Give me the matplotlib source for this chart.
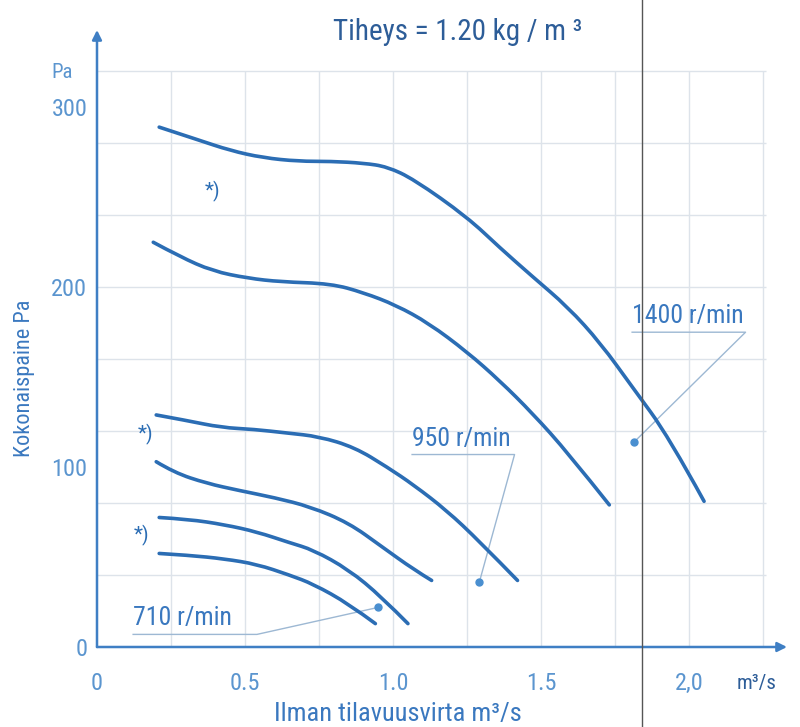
import matplotlib
matplotlib.use('Agg')
import matplotlib.pyplot as plt
from matplotlib.lines import Line2D
from matplotlib.path import Path
from matplotlib.patches import PathPatch
from matplotlib import font_manager

# pick the narrowest installed sans family
_names = {f.name for f in font_manager.fontManager.ttflist}
FONT = 'Roboto'
for cand in ['Roboto Condensed', 'Liberation Sans Narrow', 'Open Sans Condensed']:
    if cand in _names:
        FONT = cand
        break
plt.rcParams['font.family'] = [FONT, 'DejaVu Sans']

# ── Data ──────────────────────────────────────────────────────────────────────
# 1400 r/min, upper curve (*)
q_1400a = [0.21, 0.34, 0.45, 0.56, 0.68, 0.79, 0.90, 0.98, 1.07, 1.25, 1.36, 1.47, 1.59, 1.70, 1.81, 1.93, 2.05]
p_1400a = [289, 282, 276, 272, 270, 270, 269, 267, 260, 239, 222, 206, 189, 169, 144, 117, 81]
# 1400 r/min, lower curve
q_1400b = [0.19, 0.28, 0.39, 0.51, 0.62, 0.79, 0.90, 1.01, 1.12, 1.25, 1.36, 1.47, 1.59, 1.73]
p_1400b = [225, 217, 209, 205, 203, 202, 197, 190, 180, 164, 148, 130, 108, 79]
# 950 r/min, upper curve (*)
q_950a = [0.20, 0.30, 0.42, 0.53, 0.64, 0.75, 0.87, 0.98, 1.07, 1.18, 1.29, 1.42]
p_950a = [129, 126, 122, 121, 119, 117, 111, 100, 90, 76, 59, 37]
# 950 r/min, lower curve
q_950b = [0.20, 0.26, 0.37, 0.48, 0.60, 0.72, 0.85, 0.96, 1.07, 1.13]
p_950b = [103, 97, 91, 87, 83, 78, 69, 56, 43, 37]
# 710 r/min, upper curve (*)
q_710a = [0.21, 0.31, 0.43, 0.54, 0.65, 0.73, 0.85, 0.96, 1.05]
p_710a = [72, 71, 68, 64, 58, 54, 43, 28, 13]
# 710 r/min, lower curve
q_710b = [0.21, 0.31, 0.43, 0.54, 0.65, 0.73, 0.85, 0.94]
p_710b = [52, 51, 49, 46, 40, 35, 24, 13]

CURVES = [(q_1400a, p_1400a), (q_1400b, p_1400b), (q_950a, p_950a),
          (q_950b, p_950b), (q_710a, p_710a), (q_710b, p_710b)]

X_TICKS = [0, 0.5, 1.0, 1.5, 2.0]
X_TICK_LABELS = ['0', '0.5', '1.0', '1.5', '2,0']
Y_TICKS = [0, 100, 200, 300]
Y_TICK_LABELS = ['0', '100', '200', '300']
X_GRID = [0.25, 0.5, 0.75, 1.0, 1.25, 1.5, 1.75, 2.0, 2.25]
Y_GRID = [40, 80, 120, 160, 200, 240, 280, 320]

# speed labels: text, (text x, baseline y), underline end x, dot (x, y)
SPEED_LABELS = [
    ('1400 r/min', (1.807, 180), 2.19, (1.814, 114)),
    ('950 r/min',  (1.064, 112), 1.41, (1.291, 36)),
    ('710 r/min',  (0.122, 12),  0.54, (0.949, 22)),
]
STAR_POS = [(0.39, 253), (0.165, 118), (0.15, 62)]

# ── Styles ────────────────────────────────────────────────────────────────────
CURVE_COLOR  = '#2b6db4'
AXIS_COLOR   = '#3f7fc4'
TICK_COLOR   = '#5b95cf'
TITLE_COLOR  = '#2d5d98'
LABEL_COLOR  = '#3a78bf'
GRID_COLOR   = '#dde3ea'
LEADER_COLOR = '#9db8d3'


def smooth_path(xs, ys):
    # quadratic b-spline through the midpoints, anchored at both ends
    pts = list(zip(xs, ys))
    verts, codes = [pts[0]], [Path.MOVETO]
    for i in range(1, len(pts) - 1):
        mid = ((pts[i][0] + pts[i + 1][0]) / 2, (pts[i][1] + pts[i + 1][1]) / 2)
        if i == len(pts) - 2:
            mid = pts[-1]
        verts += [pts[i], mid]
        codes += [Path.CURVE3, Path.CURVE3]
    return Path(verts, codes)


fig = plt.figure(figsize=(8, 7.27), dpi=100, facecolor='white')
ax = fig.add_axes([97/800, 80/727, 690/800, 617/727])
ax.set_xlim(0, 2.33)
ax.set_ylim(0, 343)
for s in ax.spines.values():
    s.set_visible(False)

# grid
ax.hlines(Y_GRID, 0, 2.26, color=GRID_COLOR, lw=1.0, zorder=1)
ax.vlines(X_GRID, 0, 320, color=GRID_COLOR, lw=1.0, zorder=1)

# axes with arrows
for end in [(1.0, 0), (0, 1.0)]:
    ax.annotate('', xy=end, xytext=(0, 0), xycoords='axes fraction',
                arrowprops=dict(arrowstyle='-|>', color=AXIS_COLOR, lw=1.8,
                                mutation_scale=14, shrinkA=0, shrinkB=0))

# fan curves
for q, p in CURVES:
    ax.add_patch(PathPatch(smooth_path(q, p), fill=False, edgecolor=CURVE_COLOR,
                           lw=2.6, capstyle='round', joinstyle='round', zorder=4))

# speed labels with underline + leader
for text, (tx, ty), ux, (dx, dy) in SPEED_LABELS:
    ax.text(tx, ty, text, fontsize=18.5, color=LABEL_COLOR, ha='left', va='baseline', zorder=5)
    ax.plot([tx, ux, dx], [ty - 5, ty - 5, dy], color=LEADER_COLOR, lw=1.0, zorder=3)
    ax.plot([dx], [dy], 'o', color='#4a8fd0', ms=5, zorder=5)

for sx, sy in STAR_POS:
    ax.text(sx, sy, '*)', fontsize=15, color=CURVE_COLOR, ha='center', va='center', zorder=5)

# ticks
ax.set_xticks(X_TICKS)
ax.set_xticklabels(X_TICK_LABELS)
ax.set_yticks(Y_TICKS)
ax.set_yticklabels(Y_TICK_LABELS)
ax.tick_params(axis='both', length=0, colors=TICK_COLOR, labelsize=17.5)
ax.tick_params(axis='x', pad=18)
ax.tick_params(axis='y', pad=7)

# texts
fig.text(458/800, 1 - 32/727, 'Tiheys = 1.20 kg / m ³', fontsize=21,
         color=TITLE_COLOR, ha='center', va='center')
fig.text(62/800, 1 - 72/727, 'Pa', fontsize=15, color=TICK_COLOR, ha='center', va='center')
fig.text(757/800, 1 - 683/727, 'm³/s', fontsize=15, color=TITLE_COLOR, ha='center', va='center')
fig.text(398/800, 1 - 714/727, 'Ilman tilavuusvirta m³/s', fontsize=19,
         color=LABEL_COLOR, ha='center', va='center')
fig.text(25/800, 1 - 378/727, 'Kokonaispaine Pa', fontsize=16, rotation=90,
         color=LABEL_COLOR, ha='center', va='center')

# dark fold line from the scan
fig.add_artist(Line2D([642/800, 642/800], [0, 1], color='#555555', lw=1.0))

fig.savefig('out.png', dpi=100, facecolor='white')
